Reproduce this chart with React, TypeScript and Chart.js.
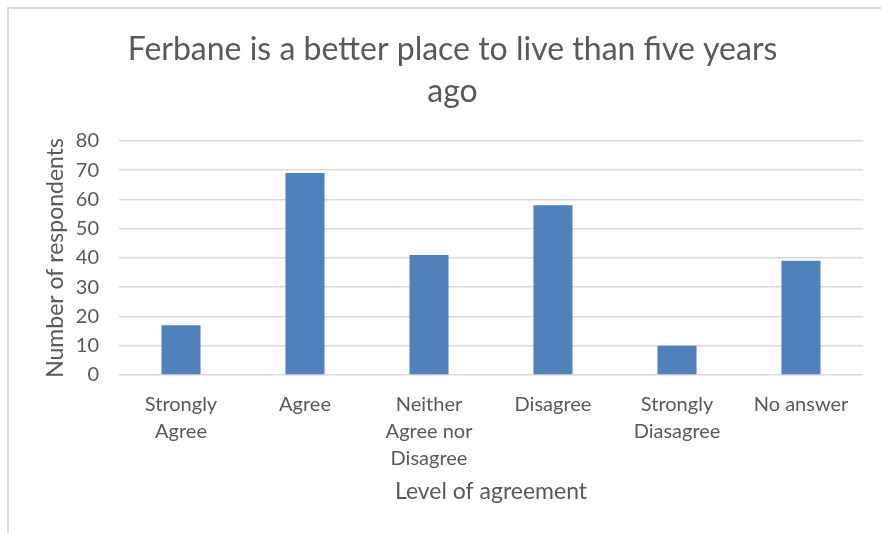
import React, { useEffect, useRef } from "react";
import { Chart, registerables } from "chart.js";

Chart.register(...registerables);

const chartTitle = ["Ferbane is a better place to live than five years", "ago"];
const categories: (string | string[])[] = [
  ["Strongly", "Agree"],
  "Agree",
  ["Neither", "Agree nor", "Disagree"],
  "Disagree",
  ["Strongly", "Diasagree"],
  "No answer",
];
const respondents = [17, 69, 41, 58, 10, 39];
const yMin = 0;
const yMax = 80;
const yStep = 10;
const xAxisTitle = "Level of agreement";
const yAxisTitle = "Number of respondents";

const FONT = "Lato, 'Open Sans', sans-serif";
const TEXT = "#595959";

const frame = {
  id: "frame",
  beforeDraw(chart: any) {
    const ctx = chart.ctx;
    ctx.save();
    ctx.fillStyle = "#ffffff";
    ctx.fillRect(0, 0, chart.width, chart.height);
    ctx.fillStyle = "#d9d9d9";
    ctx.fillRect(7, 7, chart.width - 7, 2);
    ctx.fillRect(7, 7, 2, chart.height - 7);
    ctx.restore();
  },
};

export default function App() {
  const ref = useRef<HTMLCanvasElement | null>(null);
  useEffect(() => {
    if (!ref.current) return;
    const chart = new Chart(ref.current, {
      type: "bar",
      data: {
        labels: categories,
        datasets: [
          {
            data: respondents,
            backgroundColor: "#4f81bd",
            borderWidth: 0,
            barPercentage: 0.315,
            categoryPercentage: 1,
          },
        ],
      },
      options: {
        responsive: false,
        animation: false,
        layout: { padding: { top: 0, left: 42, right: 18, bottom: 28 } },
        plugins: {
          legend: { display: false },
          tooltip: { enabled: false },
          title: {
            display: true,
            text: chartTitle,
            color: TEXT,
            font: { family: FONT, size: 32, weight: "normal", lineHeight: 1.31 },
            padding: { top: 29, bottom: 28 },
          },
        },
        scales: {
          x: {
            grid: { display: false },
            border: { display: false },
            ticks: {
              color: TEXT,
              font: { family: FONT, size: 20, lineHeight: 1.35 },
              padding: 8,
              maxRotation: 0,
              autoSkip: false,
            },
            title: {
              display: true,
              text: xAxisTitle,
              color: TEXT,
              font: { family: FONT, size: 23, lineHeight: 1.2 },
              padding: 0,
            },
            afterFit: (s: any) => {
              s.height = 130;
            },
          },
          y: {
            min: yMin,
            max: yMax,
            grid: { color: "#d9d9d9", lineWidth: 1.5, drawTicks: false },
            border: { display: false },
            ticks: {
              stepSize: yStep,
              color: TEXT,
              font: { family: FONT, size: 20 },
              padding: 20,
            },
            title: {
              display: true,
              text: yAxisTitle,
              color: TEXT,
              font: { family: FONT, size: 23, lineHeight: 1.2 },
              padding: 0,
            },
            afterFit: (s: any) => {
              s.width = 77;
            },
          },
        },
      },
      plugins: [frame],
    });
    return () => chart.destroy();
  }, []);
  return (
    <div style={{ position: "absolute", left: 0, top: 0, width: 881, height: 533 }}>
      <canvas ref={ref} width={881} height={533} style={{ display: "block" }} />
    </div>
  );
}
